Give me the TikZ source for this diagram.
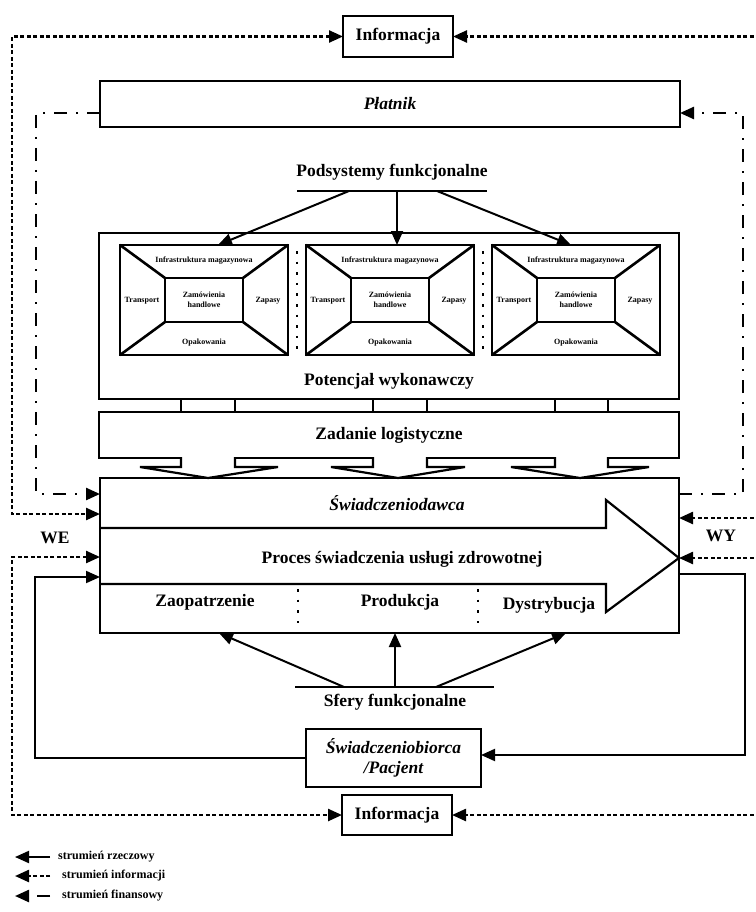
\documentclass[tikz,border=0pt]{standalone}
\usepackage{fontspec}
\setmainfont{Liberation Serif}
\usetikzlibrary{arrows.meta,calc}
\newcommand\dgbig{\fontsize{17.5}{20}\selectfont\bfseries}
\newcommand\dgsmall{\fontsize{8}{9.5}\selectfont\bfseries}
\newcommand\dglegend{\fontsize{12}{14}\selectfont\bfseries}
\begin{document}
\begin{tikzpicture}[x=1pt,y=-1pt,
  box/.style={draw,line width=2.2pt,fill=white,inner sep=0pt,outer sep=0pt,font=\dgbig,align=center},
  lbl/.style={inner sep=0pt,font=\dgbig},
  small/.style={inner sep=0pt,font=\dgsmall,align=center},
  legend/.style={inner sep=0pt,font=\dglegend,anchor=west},
  tip/.style={-{Triangle[length=14pt,width=12pt]}},
  both/.style={{Triangle[length=14pt,width=12pt]}-{Triangle[length=14pt,width=12pt]}},
  solidflow/.style={line width=2pt},
  infoflow/.style={line width=2.4pt,dash pattern=on 4pt off 2.5pt},
  finflow/.style={line width=2.4pt,dash pattern=on 13pt off 9pt on 2pt off 9pt},
  boxline/.style={line width=2.2pt},
  subline/.style={line width=2.6pt},
  sepdots/.style={line width=2.6pt,dash pattern=on 2.6pt off 8pt},
  subsys/.pic={
    \node[draw,subline,minimum width=168pt,minimum height=110pt,inner sep=0pt,outer sep=0pt] (-box) at (0,0) {};
    \node[draw,subline,minimum width=78pt,minimum height=44pt,inner sep=0pt,outer sep=0pt,font=\dgsmall,align=center] (-inner) at (0,0) {Zamówienia\\handlowe};
    \draw[subline] (-box.north west) -- (-inner.north west)
                   (-box.north east) -- (-inner.north east)
                   (-box.south west) -- (-inner.south west)
                   (-box.south east) -- (-inner.south east);
    \node[small] (-top) at (0,-39) {Infrastruktura magazynowa};
    \node[small] (-bot) at (0,43) {Opakowania};
    \node[small] (-left) at (-62,1) {Transport};
    \node[small] (-right) at (64,1) {Zapasy};
  }
]
\useasboundingbox[fill=white] (0,0) rectangle (755,912);

% top information and payer
\node[box,minimum width=110pt,minimum height=41pt] (info1) at (398,36.5) {Informacja};
\node[box,minimum width=580pt,minimum height=46pt,font=\dgbig\itshape] (plat) at (390,104) {Płatnik};

% functional subsystems
\node[lbl] (pods) at (392,172) {Podsystemy funkcjonalne};
\coordinate (pbL) at (297,191);
\coordinate (pbR) at (487,191);
\draw[boxline] (pbL) -- (pbR);

% potential box
\node[box,minimum width=580pt,minimum height=166pt] (pot) at (389,316) {};
\node[lbl] (potl) at (389,381) {Potencjał wykonawczy};
\pic (s1) at (204,300) {subsys};
\pic (s2) at (390,300) {subsys};
\pic (s3) at (576,300) {subsys};
\draw[sepdots] (297,251) -- (297,356);
\draw[sepdots] (483,251) -- (483,356);

\coordinate (pa1) at (349,191);
\coordinate (pa2) at (397,191);
\coordinate (pa3) at (437,191);
\draw[solidflow,tip] (pa1) -- ([xshift=14pt]s1-box.north);
\draw[solidflow,tip] (pa2) -- ([xshift=7pt]s2-box.north);
\draw[solidflow,tip] (pa3) -- ([xshift=-5pt]s3-box.north);

% logistic task
\node[box,minimum width=580pt,minimum height=46pt] (zad) at (389,435) {Zadanie logistyczne};
\foreach \a/\b in {181/235,373/427,555/608}{
  \draw[boxline] (\a,399) -- (\a,412) (\b,399) -- (\b,412);
}

% main process box
\node[draw,line width=2.2pt,fill=white,minimum width=579pt,minimum height=155pt,inner sep=0pt,outer sep=0pt] (main) at (389.5,555.5) {};
\draw[boxline,line join=miter] (100,528) -- (606,528) -- (606,500) -- (main.east |- 0,558) -- (606,612) -- (606,584) -- (100,584);
\node[lbl,font=\dgbig\itshape] (swd) at (397,503) {Świadczeniodawca};
\node[lbl] (proc) at (402,559) {Proces świadczenia usługi zdrowotnej};
\node[lbl] (zao) at (205,602) {Zaopatrzenie};
\node[lbl] (prod) at (400,602) {Produkcja};
\node[lbl] (dys) at (549,605) {Dystrybucja};
\draw[sepdots] (298,589) -- (298,630);
\draw[sepdots] (478,589) -- (478,630);

% block arrows from logistic task
\foreach \a/\b/\l/\r/\c in {181/235/140/278/208,373/427/331/465/398,555/608/511/649/580}{
  \draw[boxline,fill=white,line join=miter] (\a,457) -- (\a,467) -- (\l,467) -- (\c,478) -- (\r,467) -- (\b,467) -- (\b,457);
}

% functional spheres
\coordinate (sbL) at (295,687);
\coordinate (sbR) at (494,687);
\draw[boxline] (sbL) -- (sbR);
\node[lbl] (sfery) at (395,702) {Sfery funkcjonalne};
\coordinate (sa1) at (344,687);
\coordinate (sa2) at (395,687);
\coordinate (sa3) at (436,687);
\draw[solidflow,tip] (sa1) -- ([xshift=-170.5pt]main.south);
\draw[solidflow,tip] (sa2) -- ([xshift=5.5pt]main.south);
\draw[solidflow,tip] (sa3) -- ([xshift=176.5pt]main.south);

% patient and bottom information
\node[box,minimum width=175pt,minimum height=58pt,font=\dgbig\itshape] (swb) at (393.5,758) {Świadczeniobiorca\\/Pacjent};
\node[box,minimum width=110pt,minimum height=40pt] (info2) at (397,815) {Informacja};

% WE / WY
\node[lbl] (we) at (55,538) {WE};
\node[lbl] (wy) at (721,536) {WY};

% financial flows
\draw[finflow,tip] ([yshift=-9pt]plat.west) -- (36,113) -- (36,494) -- ([yshift=-16pt]main.north west);
\draw[finflow,tip] ([yshift=-16pt]main.north east) -- (743,494) -- (743,113) -- ([yshift=-9pt]plat.east);

% information flows
\draw[infoflow,both] (info1.west) -- (12,36.5) -- (12,514) -- ([yshift=-36pt]main.north west);
\coordinate (r1) at (760,36.5);
\draw[infoflow,tip] (r1) -- (info1.east);
\coordinate (r2) at (760,518);
\draw[infoflow,tip] (r2) -- ([yshift=-40pt]main.north east);
\coordinate (r3) at (760,558);
\draw[infoflow,tip] (r3) -- ([yshift=-80pt]main.north east);
\draw[infoflow,both] ([yshift=-79pt]main.north west) -- (12,557) -- (12,815) -- (info2.west);
\coordinate (r4) at (760,815);
\draw[infoflow,tip] (r4) -- (info2.east);

% material flows
\draw[solidflow,tip] (swb.west) -- (35,758) -- (35,577) -- ([yshift=-99pt]main.north west);
\draw[solidflow,tip] ([yshift=-96pt]main.north east) -- (745,574) -- (745,755) -- ([yshift=3pt]swb.east);

% legend
\coordinate (l1a) at (50,857); \coordinate (l1b) at (15,857);
\draw[solidflow,tip] (l1a) -- (l1b);
\node[legend] (l1t) at (58,857) {strumień rzeczowy};
\coordinate (l2a) at (50,876); \coordinate (l2b) at (15,876);
\draw[infoflow,tip] (l2a) -- (l2b);
\node[legend] (l2t) at (62,876) {strumień informacji};
\coordinate (l3a) at (50,896); \coordinate (l3b) at (15,896);
\draw[line width=2.4pt,dash pattern=on 13pt off 9pt,tip] (l3a) -- (l3b);
\node[legend] (l3t) at (62,896) {strumień finansowy};
\end{tikzpicture}
\end{document}
